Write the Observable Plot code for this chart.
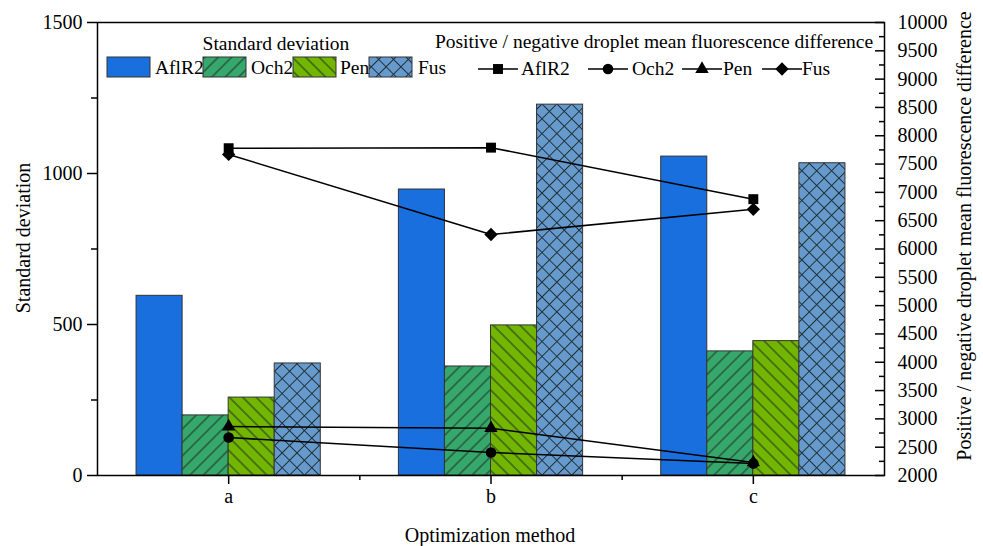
<!DOCTYPE html>
<html><head><meta charset="utf-8">
<script src="https://cdn.jsdelivr.net/npm/d3@7"></script>
<script src="https://cdn.jsdelivr.net/npm/@observablehq/plot@0.6"></script>
<style>
html,body{margin:0;padding:0;background:#fff;}
#chart{width:983px;height:546px;}
</style></head><body><div id="chart"></div>
<script>
const categories = ["a", "b", "c"];
const seriesNames = ["AflR2", "Och2", "Pen", "Fus"];
const sdAflR2 = [595, 947, 1056];
const sdOch2 = [199, 361, 411];
const sdPen = [258, 497, 445];
const sdFus = [371, 1228, 1034];
const diffAflR2 = [7780, 7790, 6880];
const diffOch2 = [2670, 2405, 2210];
const diffPen = [2865, 2835, 2230];
const diffFus = [7670, 6256, 6700];
const leftTicks = [0, 500, 1000, 1500];
const leftMinorTicks = [250, 750, 1250];
const rightTicks = [2000, 2500, 3000, 3500, 4000, 4500, 5000, 5500, 6000, 6500, 7000, 7500, 8000, 8500, 9000, 9500, 10000];
const rightMinorTicks = [2250, 2750, 3250, 3750, 4250, 4750, 5250, 5750, 6250, 6750, 7250, 7750, 8250, 8750, 9250, 9750];

const W = 983, H = 546;
const mL = 97, mR = 99, mT = 22, mB = 71;
const frameW = W - mL - mR;
const leftDomain = [0, 1500];
const rightDomain = [2000, 10000];
const toLeft = v => (v - rightDomain[0]) * (leftDomain[1] - leftDomain[0]) / (rightDomain[1] - rightDomain[0]);
const fromLeft = y => rightDomain[0] + y * (rightDomain[1] - rightDomain[0]) / (leftDomain[1] - leftDomain[0]);

const barW = 46 / 262;
const sdSeries = [sdAflR2, sdOch2, sdPen, sdFus];
const diffSeries = [diffAflR2, diffOch2, diffPen, diffFus];
const fills = ["#1a6fdf", "url(#p-och2)", "url(#p-pen)", "url(#p-fus)"];
const symbols = ["square", "circle", "triangle", "diamond2"];
const radii = [5.6, 5.3, 5, 6];
const catX = (d, i) => i + 0.5;

const marks = [];
sdSeries.forEach((vals, j) => {
  marks.push(Plot.rect(categories, {
    x1: (d, i) => i + 0.5 + (j - 2) * barW,
    x2: (d, i) => i + 0.5 + (j - 1) * barW,
    y1: 0,
    y2: (d, i) => vals[i],
    fill: fills[j], stroke: "#333", strokeWidth: 1
  }));
});
marks.push(Plot.frame({stroke: "#000", strokeWidth: 1.5}));
diffSeries.forEach((vals, j) => {
  marks.push(Plot.line(categories, {x: catX, y: (d, i) => toLeft(vals[i]), stroke: "#000", strokeWidth: 1.5}));
  marks.push(Plot.dot(categories, {x: catX, y: (d, i) => toLeft(vals[i]), symbol: symbols[j], r: radii[j], fill: "#000", stroke: "none"}));
});
marks.push(
  Plot.axisY({ticks: leftTicks, tickSize: 10, tickPadding: 5, tickFormat: v => String(v), label: null, strokeWidth: 1.5}),
  Plot.axisY({ticks: leftMinorTicks, tickSize: 6, tickFormat: () => "", label: null, strokeWidth: 1.5}),
  Plot.axisY({anchor: "right", ticks: rightTicks.map(toLeft), tickFormat: v => String(Math.round(fromLeft(v))), tickSize: 0, tickPadding: 13, label: null}),
  Plot.ruleY(rightTicks, {y: toLeft, insetLeft: frameW - 9, stroke: "#000", strokeWidth: 1.5}),
  Plot.ruleY(rightMinorTicks, {y: toLeft, insetLeft: frameW - 5, stroke: "#000", strokeWidth: 1.5}),
  Plot.axisX({ticks: categories.map(catX), tickFormat: v => categories[Math.round(v - 0.5)], tickSize: 9, tickPadding: 4, label: null, strokeWidth: 1.5}),
  Plot.axisX({ticks: [1, 2], tickSize: 5, tickFormat: () => "", label: null, strokeWidth: 1.5})
);

const svg = Plot.plot({
  width: W, height: H,
  marginLeft: mL, marginRight: mR, marginTop: mT, marginBottom: mB,
  x: {domain: [0, 3]},
  y: {domain: leftDomain},
  style: {fontFamily: "'Liberation Serif', 'Times New Roman', serif", fontSize: "20px", color: "#000", background: "#fff"},
  marks
});

const s = d3.select(svg);
const defs = s.insert("defs", ":first-child");
function pattern(id, bg, spacing, cross, angle) {
  const p = defs.append("pattern").attr("id", id).attr("patternUnits", "userSpaceOnUse")
    .attr("width", spacing).attr("height", spacing).attr("patternTransform", `rotate(${angle})`);
  p.append("rect").attr("width", spacing).attr("height", spacing).attr("fill", bg);
  p.append("line").attr("x1", spacing / 2).attr("x2", spacing / 2).attr("y1", 0).attr("y2", spacing).attr("stroke", "#1f2f25").attr("stroke-width", 1);
  if (cross) p.append("line").attr("y1", spacing / 2).attr("y2", spacing / 2).attr("x1", 0).attr("x2", spacing).attr("stroke", "#1f2f3f").attr("stroke-width", 1);
}
pattern("p-och2", "#36a86b", 9.5, false, 45);
pattern("p-pen", "#72b600", 9.5, false, -45);
pattern("p-fus", "#6699cc", 10.5, true, 45);

const font = "'Liberation Serif', 'Times New Roman', serif";
function txt(x, y, t, opts = {}) {
  const e = s.append("text").attr("x", x).attr("y", y).text(t)
    .attr("font-family", font).attr("font-size", opts.size || 20).attr("fill", "#000")
    .attr("text-anchor", opts.anchor || "start");
  if (opts.rotate) e.attr("transform", `rotate(${opts.rotate},${x},${y})`);
  if (opts.middle) e.attr("dominant-baseline", "central");
  return e;
}
// axis titles
txt(23, 238, "Standard deviation", {anchor: "middle", rotate: -90, middle: true});
txt(964, 236, "Positive / negative droplet mean fluorescence difference", {anchor: "middle", rotate: -90, middle: true});
txt(490, 535, "Optimization method", {anchor: "middle", middle: true});

// legend: bars
const lg = s.append("g");
txt(276, 50, "Standard deviation", {anchor: "middle", size: 19.5});
const swX = [107, 203, 293, 369];
const lbX = [155, 251, 340, 418];
seriesNames.forEach((n, j) => {
  lg.append("rect").attr("x", swX[j]).attr("y", 57).attr("width", 43).attr("height", 20)
    .attr("fill", fills[j]).attr("stroke", "#333").attr("stroke-width", 1);
  txt(lbX[j], 74, n, {size: 19.5});
});
// legend: lines
txt(654, 48, "Positive / negative droplet mean fluorescence difference", {anchor: "middle", size: 19.5});
const lnX = [478, 588, 682, 762];
const lnLbX = [521, 632, 723, 802];
const symPaths = [d3.symbolSquare, d3.symbolCircle, d3.symbolTriangle, d3.symbolDiamond2];
seriesNames.forEach((n, j) => {
  const x0 = lnX[j], cx = x0 + 20, cy = 69;
  lg.append("line").attr("x1", x0).attr("x2", x0 + 40).attr("y1", cy).attr("y2", cy).attr("stroke", "#000").attr("stroke-width", 1.5);
  lg.append("path").attr("transform", `translate(${cx},${cy})`)
    .attr("d", d3.symbol(symPaths[j], Math.PI * radii[j] * radii[j])()).attr("fill", "#000");
  txt(lnLbX[j], 75, n, {size: 19.5});
});

document.getElementById("chart").appendChild(svg);
</script>
</body></html>
